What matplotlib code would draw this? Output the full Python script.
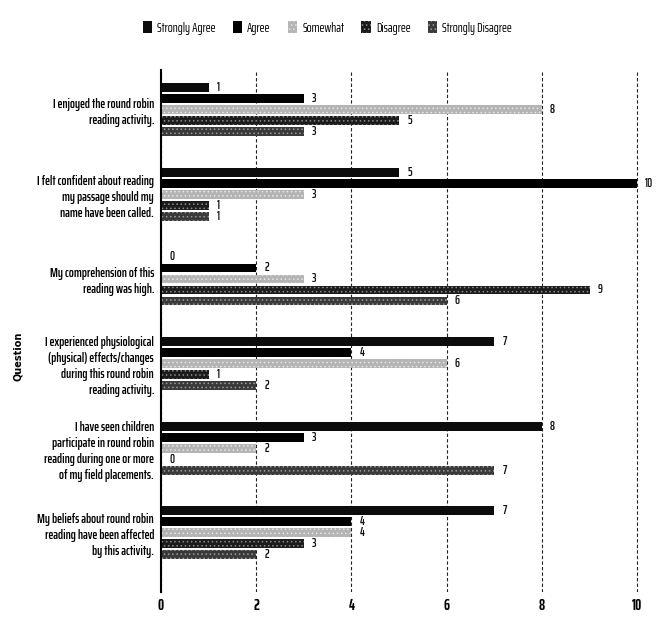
import numpy as np
import matplotlib
matplotlib.use("Agg")
import matplotlib.pyplot as plt
from matplotlib.patches import Patch

plt.rcParams['font.family'] = ['Saira ExtraCondensed', 'DejaVu Sans']
plt.rcParams['hatch.linewidth'] = 0.6

questions = [
    "I enjoyed the round robin\nreading activity.",
    "I felt confident about reading\nmy passage should my\nname have been called.",
    "My comprehension of this\nreading was high.",
    "I experienced physiological\n(physical) effects/changes\nduring this round robin\nreading activity.",
    "I have seen children\nparticipate in round robin\nreading during one or more\nof my field placements.",
    "My beliefs about round robin\nreading have been affected\nby this activity.",
]
responses = ["Strongly Agree", "Agree", "Somewhat", "Disagree", "Strongly Disagree"]

strongly_agree = [1, 5, 0, 7, 8, 7]
agree = [3, 10, 2, 4, 3, 4]
somewhat = [8, 3, 3, 6, 2, 4]
disagree = [5, 1, 9, 1, 0, 3]
strongly_disagree = [3, 1, 6, 2, 7, 2]
series = [strongly_agree, agree, somewhat, disagree, strongly_disagree]

x_ticks = [0, 2, 4, 6, 8, 10]

colors = ['#0c0c0c', '#000000', '#b4b4b4', '#1c1c1c', '#3a3a3a']
hatch_colors = ['#0c0c0c', '#000000', '#e6e6e6', '#8a8a8a', '#9a9a9a']
hatches = [None, None, '....', '....', '....']

fig = plt.figure(figsize=(6.68, 6.17), dpi=100)
ax = fig.add_axes([161 / 668, 1 - 592 / 617, (640 - 161) / 668, (592 - 70) / 617])

y = np.arange(len(questions))
step = 0.13
for k, vals in enumerate(series):
    pos = y + (k - 2) * step
    ax.barh(pos, vals, height=0.105, color=colors[k], edgecolor=hatch_colors[k],
            hatch=hatches[k], linewidth=0, label=responses[k])
    # value labels just past the bar end
    for p, v in zip(pos, vals):
        ax.text(v + 0.17, p, str(v), va='center', ha='left', fontsize=9,
                fontweight='semibold', color='#111111')

ax.set_xlim(0, 10.06)
ax.set_ylim(5.70, -0.47)
ax.set_xticks(x_ticks)
ax.set_xticklabels([str(t) for t in x_ticks], fontsize=11, fontweight='bold')
ax.set_yticks(y)
ax.set_yticklabels(questions, fontsize=9.5, linespacing=1.3, fontweight='semibold')
ax.tick_params(axis='both', length=0)
ax.tick_params(axis='x', pad=5)
ax.tick_params(axis='y', pad=5)
ax.grid(axis='x', color='#222222', linestyle=(0, (3, 2)), linewidth=0.8)
ax.set_axisbelow(True)
for s in ['top', 'right', 'bottom']:
    ax.spines[s].set_visible(False)
ax.spines['left'].set_linewidth(1.5)
ax.spines['left'].set_color('#000000')

fig.text(0.027, 0.422, "Question", rotation=90, va='center', ha='center',
         fontsize=7, fontweight='bold', family='DejaVu Sans')

handles = [Patch(facecolor=colors[k], edgecolor=hatch_colors[k], hatch=hatches[k],
                 linewidth=0) for k in range(len(responses))]
fig.legend(handles, responses, loc='upper center', bbox_to_anchor=(0.49, 0.985),
           ncol=5, frameon=False, fontsize=9.5, handlelength=0.7, handleheight=1.0,
           handletextpad=0.4, columnspacing=1.3)

fig.savefig("out.png", dpi=100)
